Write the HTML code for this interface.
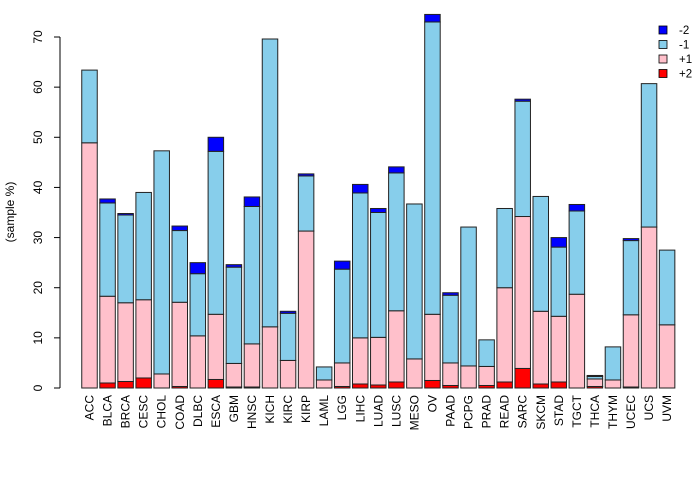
<!DOCTYPE html>
<html><head><meta charset="utf-8"><style>
body{margin:0;background:#fff;font-family:"Liberation Sans",sans-serif}
</style></head><body>
<svg id="c" width="700" height="480" xmlns="http://www.w3.org/2000/svg" font-family="Liberation Sans, sans-serif" font-size="12"></svg>
<script>
const categories=["ACC","BLCA","BRCA","CESC","CHOL","COAD","DLBC","ESCA","GBM","HNSC","KICH","KIRC","KIRP","LAML","LGG","LIHC","LUAD","LUSC","MESO","OV","PAAD","PCPG","PRAD","READ","SARC","SKCM","STAD","TGCT","THCA","THYM","UCEC","UCS","UVM"];
const plus2=[0,1.0,1.3,2.0,0,0.3,0,1.7,0.2,0.2,0,0,0,0,0.3,0.8,0.6,1.2,0,1.5,0.5,0,0.5,1.2,3.9,0.8,1.2,0,0.3,0,0.2,0,0];
const plus1=[48.9,17.3,15.7,15.6,2.8,16.8,10.4,13.0,4.7,8.6,12.2,5.5,31.3,1.6,4.7,9.2,9.5,14.2,5.8,13.2,4.5,4.4,3.8,18.8,30.3,14.5,13.1,18.7,1.5,1.6,14.4,32.1,12.6];
const minus1=[14.5,18.6,17.5,21.4,44.5,14.3,12.4,32.5,19.2,27.4,57.4,9.4,11.0,2.6,18.7,28.9,24.9,27.5,30.9,58.3,13.5,27.7,5.3,15.8,23.0,22.9,13.8,16.6,0.5,6.6,14.8,28.6,14.9];
const minus2=[0,0.8,0.3,0,0,0.9,2.2,2.8,0.5,1.9,0,0.4,0.4,0,1.6,1.7,0.8,1.2,0,1.5,0.5,0,0,0,0.4,0,1.9,1.3,0.2,0,0.4,0,0];
const yTicks=[0,10,20,30,40,50,60,70];
const seriesNames=["-2","-1","+1","+2"];

const NS="http://www.w3.org/2000/svg";
const svg=document.getElementById('c');
function el(t,a,txt){const e=document.createElementNS(NS,t);for(const k in a)e.setAttribute(k,a[k]);if(txt!==undefined)e.textContent=txt;svg.appendChild(e);return e;}
const y=v=>388-v*(351/70);
const xc=i=>89.5+i*18.05;
const bw=15.5;
const series=[[plus2,"#ff0000","plus2"],[plus1,"#ffc0cb","plus1"],[minus1,"#87ceeb","minus1"],[minus2,"#0000ff","minus2"]];
categories.forEach((c,i)=>{
  let base=0;
  series.forEach(([arr,col,nm])=>{
    const v=arr[i];
    const r=el('rect',{x:xc(i)-bw/2,y:y(base+v),width:bw,height:y(base)-y(base+v),fill:col,stroke:"#222","stroke-width":1});
    
    
    base+=v;
  });
  const t=el('text',{x:0,y:0,transform:`translate(${xc(i)+4},395) rotate(-90)`,"text-anchor":"end"},c);
  
  
});
const ax=el('line',{x1:60,y1:y(0),x2:60,y2:y(70),stroke:"#000"});


yTicks.forEach(v=>{
  el('line',{x1:54,y1:y(v),x2:60,y2:y(v),stroke:"#000"});
  const t=el('text',{x:0,y:0,transform:`translate(42,${y(v)}) rotate(-90)`,"text-anchor":"middle"},v);
  
  
});
const yt=el('text',{x:0,y:0,transform:"translate(14,212) rotate(-90)","text-anchor":"middle"},"(sample %)");


const lcols=["#0000ff","#87ceeb","#ffc0cb","#ff0000"];
seriesNames.forEach((n,k)=>{
  const yy=30+k*14.5;
  const r=el('rect',{x:659,y:yy-4,width:8,height:8,fill:lcols[k],stroke:"#000","stroke-width":0.8});
  
  
  const t=el('text',{x:679,y:yy+4,"font-size":"11.5"},n);
  
  
});
</script>
</body></html>
